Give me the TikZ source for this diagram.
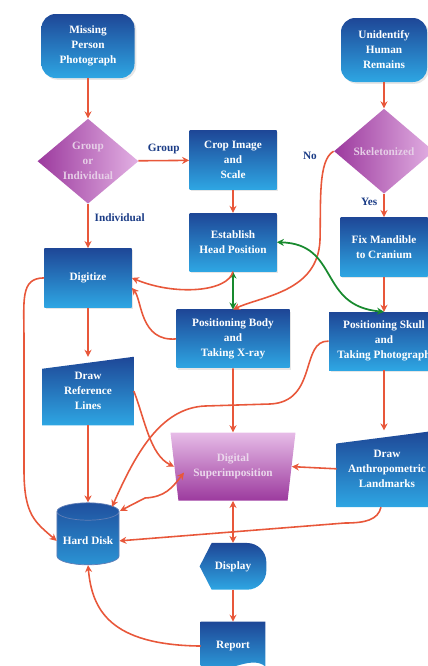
\documentclass[tikz,border=0pt]{standalone}
\usepackage{fontspec}
\setmainfont{Liberation Serif}
\usetikzlibrary{shapes.geometric,arrows.meta,positioning,calc,backgrounds,shadows}

\definecolor{bdark}{HTML}{1E4797}
\definecolor{blight}{HTML}{2EA6E3}
\definecolor{pdark}{HTML}{9C3A9E}
\definecolor{plight}{HTML}{E2B0E3}
\definecolor{flow}{HTML}{E8573A}
\definecolor{linkg}{HTML}{188A2E}
\definecolor{lblue}{HTML}{1B3C86}

\begin{document}
\begin{tikzpicture}[x=0.2mm, y=-0.2mm,
  every node/.style={font=\fontsize{6.4}{8.5}\selectfont\bfseries, align=center},
  terminal/.style={rectangle, rounded corners=8pt, minimum width=1.86cm, minimum height=1.28cm, text=white, top color=bdark, bottom color=blight, drop shadow={opacity=0.2, shadow xshift=1pt, shadow yshift=-1pt}},
  process/.style={rectangle, minimum width=1.74cm, minimum height=1.18cm, text=white, top color=bdark, bottom color=blight, drop shadow={opacity=0.2, shadow xshift=1pt, shadow yshift=-1pt}},
  decision/.style={diamond, aspect=1.19, minimum width=2.02cm, minimum height=1.7cm, inner sep=0pt, text=white!75!pdark, left color=pdark, right color=plight},
  slanted/.style={rectangle, minimum width=1.82cm, minimum height=1.36cm, text=white},
  merge/.style={trapezium, shape border rotate=180, trapezium stretches body, trapezium angle=72.5, minimum width=2.5cm, minimum height=1.36cm, inner sep=0pt, text=white!80!pdark, top color=plight!85!white, bottom color=pdark},
  storage/.style={cylinder, shape border rotate=90, aspect=0.28, minimum width=1.24cm, minimum height=1.24cm, text=white, top color=bdark!90!blight, bottom color=blight!80!bdark, draw=bdark!70, thin},
  screen/.style={rectangle, minimum width=1.32cm, minimum height=0.92cm, text=white},
  docu/.style={rectangle, minimum width=1.28cm, minimum height=0.96cm, text=white},
  arrow/.style={-{Stealth[length=4pt, width=4pt]}, flow, line width=0.9pt},
  both/.style={{Stealth[length=4pt, width=4pt]}-{Stealth[length=4pt, width=4pt]}, flow, line width=0.9pt},
  link/.style={{Stealth[length=4pt, width=4pt]}-{Stealth[length=4pt, width=4pt]}, linkg, line width=1pt},
  lbl/.style={text=lblue}
]
  \useasboundingbox (0,0) rectangle (428,666);

  % left column
  \node (miss) [terminal] at (88,46) {Missing\\Person\\Photograph};
  \node (grp) [decision, below=0.8cm of miss] {Group\\or\\Individual};
  \node (digit) [process, below=0.88cm of grp] {Digitize};
  \node (ref) [slanted, below=0.98cm of digit] {Draw\\Reference\\Lines};
  \node (disk) [storage, below=1.54cm of ref] {Hard Disk};

  % middle column
  \node (crop) [process] at (233,160) {Crop Image\\and\\Scale};
  \node (head) [process, minimum height=1.16cm, below=0.46cm of crop] {Establish\\Head Position};
  \node (body) [process, minimum width=2.26cm, minimum height=1.16cm, below=0.76cm of head] {Positioning Body\\and\\Taking X-ray};
  \node (sup) [merge, below=1.28cm of body] {Digital\\Superimposition};
  \node (disp) [screen, below=0.84cm of sup] {Display};
  \node (rep) [docu, below=0.64cm of disp] {Report};

  % right column
  \node (unid) [terminal, minimum width=1.72cm] at (384,50) {Unidentify\\Human\\Remains};
  \node (skel) [decision, minimum width=2cm, below=0.52cm of unid] {Skeletonized};
  \node (fix) [process, below=0.46cm of skel] {Fix Mandible\\to Cranium};
  \node (skull) [process, minimum width=2.2cm, minimum height=1.16cm, below=0.7cm of fix] {Positioning Skull\\and\\Taking Photograph};
  \node (anth) [slanted, minimum width=2cm, minimum height=1.52cm, below=1.2cm of skull, xshift=0.06cm] {Draw\\Anthropometric\\Landmarks};

  % odd shapes
  \begin{scope}[on background layer]
    \shade[top color=bdark, bottom color=blight] (ref.south west) -- (ref.south east) -- (ref.north east) -- ($(ref.north west)+(0,12)$) -- cycle;
    \shade[top color=bdark, bottom color=blight] (anth.south west) -- (anth.south east) -- (anth.north east) -- ($(anth.north west)+(0,13)$) -- cycle;
    \shade[top color=bdark, bottom color=blight] (disp.west) -- ($(disp.north west)+(12,0)$) [rounded corners=11pt] -- (disp.north east) -- (disp.south east) [sharp corners] -- ($(disp.south west)+(12,0)$) -- cycle;
    \shade[top color=bdark, bottom color=blight] (rep.north west) -- (rep.north east) -- ($(rep.south east)+(0,-4)$) .. controls (250,654) and (225,676) .. (rep.south west) -- cycle;
  \end{scope}

  % flow
  \draw [arrow] (miss) -- (grp);
  \draw [arrow] (grp) -- node[above, lbl] {Group} (crop);
  \draw [arrow] (grp) -- node[right, lbl, pos=0.32] {Individual} (digit);
  \draw [arrow] (crop) -- (head);
  \draw [arrow] (unid) -- (skel);
  \draw [arrow] (skel) -- node[left, lbl, pos=0.35] {Yes} (fix);
  \draw [arrow] (skel.west) .. controls (318,160) and (321,200) .. node[pos=0.12, left=3pt, lbl] {No} (320,240) .. controls (318,292) and (262,296) .. (body.north);
  \draw [arrow] (fix) -- (skull);
  \draw [link] (head) -- (body);
  \draw [link] (head.east) .. controls (340,244) and (318,306) .. (skull.north);
  \draw [arrow] (head.south) .. controls (228,292) and (175,296) .. (digit.east);
  \draw [arrow] (body.west) .. controls (140,342) and (142,300) .. ([yshift=-0.2cm]digit.east);
  \draw [arrow] (digit) -- (ref);
  \draw [arrow] (digit.west) .. controls (20,278) and (24,300) .. (24,340) -- (24,470) .. controls (24,515) and (35,522) .. (disk.west);
  \draw [arrow] (ref) -- (disk);
  \draw [arrow] (ref.east) .. controls (145,420) and (150,455) .. (sup.west);
  \draw [both] ($(sup.center)+(-49,6)$) .. controls (172,488) and (165,497) .. (145,498) -- ($(disk.center)+(32,-30)$);
  \draw [arrow] (skull.west) .. controls (300,340) and (318,402) .. (270,404) -- (205,406) .. controls (160,408) and (135,455) .. ($(disk.center)+(24,-34)$);
  \draw [arrow] (body) -- (sup);
  \draw [arrow] (skull) -- (anth.north -| skull);
  \draw [arrow] (anth.west) -- (sup.east);
  \draw [arrow] ($(anth.south)+(-6,0)$) .. controls (378,520) and (365,523) .. (345,523) -- (disk.east);
  \draw [both] (sup) -- (disp);
  \draw [arrow] (disp) -- (rep);
  \draw [arrow] (rep.west) .. controls (110,645) and (92,610) .. (disk.south);
\end{tikzpicture}
\end{document}
